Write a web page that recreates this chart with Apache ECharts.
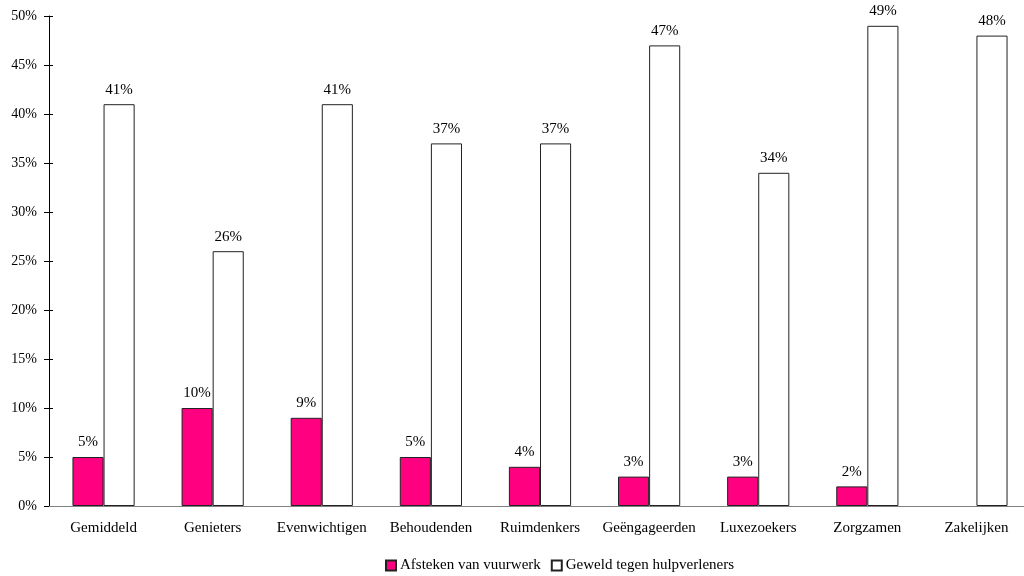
<!DOCTYPE html>
<html><head><meta charset="utf-8">
<script src="https://cdn.jsdelivr.net/npm/echarts@6/dist/echarts.min.js"></script>
<style>html,body{margin:0;padding:0;background:#fff}#c{width:1024px;height:576px}</style>
</head><body><div id="c"></div>
<script>
const categories = ['Gemiddeld','Genieters','Evenwichtigen','Behoudenden','Ruimdenkers','Geëngageerden','Luxezoekers','Zorgzamen','Zakelijken'];
const vuurwerk = [5,10,9,5,4,3,3,2,null];
const geweld = [41,26,41,37,37,47,34,49,48];
const seriesNames = ['Afsteken van vuurwerk','Geweld tegen hulpverleners'];
const yTicks = [0,5,10,15,20,25,30,35,40,45,50];

const font = 'Liberation Serif, Times New Roman, serif';
const chart = echarts.init(document.getElementById('c'));
chart.setOption({
  animation:false,
  textStyle:{fontFamily:font},
  grid:[{left:49,width:982,top:16,bottom:70,containLabel:false,outerBoundsMode:'none'},
        {left:49,width:4,top:16,bottom:70,containLabel:false,outerBoundsMode:'none'}],
  legend:{top:553,left:380,itemWidth:10,itemHeight:10,itemGap:10,
    textStyle:{fontFamily:font,fontSize:15,color:'#000',padding:[0,0,0,-1]},
    data:seriesNames.map(n=>({name:n,icon:'rect'}))},
  xAxis:[{type:'category',data:categories,
    axisLine:{lineStyle:{color:'#808080',width:1}},
    axisTick:{show:false},
    axisLabel:{fontFamily:font,fontSize:15,color:'#000',margin:15,interval:0}},
   {type:'category',gridIndex:1,data:categories,show:false}],
  yAxis:[{type:'value',min:yTicks[0],max:yTicks[yTicks.length-1],interval:5,
    axisLine:{show:true,lineStyle:{color:'#000'}},
    axisTick:{show:true,length:5,lineStyle:{color:'#000'}},
    splitLine:{show:false},
    axisLabel:{fontFamily:font,fontSize:14,color:'#000',formatter:'{value}%',margin:12}},
   {type:'value',gridIndex:1,min:yTicks[0],max:yTicks[yTicks.length-1],interval:5,
    axisLine:{show:false},axisTick:{show:false},axisLabel:{show:false},
    splitLine:{show:true,lineStyle:{color:'#000',width:1}}}],
  series:[
    {name:seriesNames[0],type:'bar',data:vuurwerk,barGap:'0%',barCategoryGap:'43%',
     itemStyle:{color:'#FF0080',borderColor:'#222',borderWidth:1},
     label:{show:true,position:'top',distance:7,formatter:'{c}%',fontFamily:font,fontSize:15,color:'#000'}},
    {name:seriesNames[1],type:'bar',data:geweld,
     itemStyle:{color:'#FFFFFF',borderColor:'#222',borderWidth:1},
     label:{show:true,position:'top',distance:7,formatter:'{c}%',fontFamily:font,fontSize:15,color:'#000'}},
    {name:'tickcarrier',type:'line',xAxisIndex:1,yAxisIndex:1,data:geweld,silent:true,
     symbol:'none',lineStyle:{opacity:0},tooltip:{show:false}}
  ]
});
</script></body></html>
